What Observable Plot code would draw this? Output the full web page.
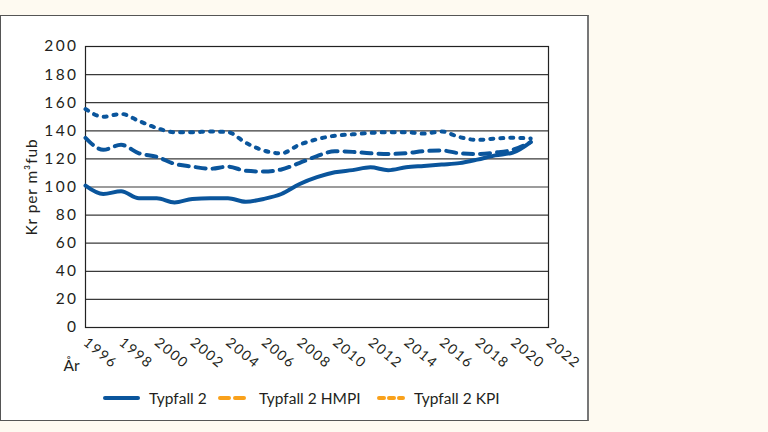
<!DOCTYPE html>
<html><head><meta charset="utf-8">
<script src="https://cdn.jsdelivr.net/npm/d3@7"></script>
<script src="https://cdn.jsdelivr.net/npm/@observablehq/plot@0.6"></script>
<style>
body{margin:0;background:#fefaf1;width:768px;height:432px;overflow:hidden;font-family:Lato,"Open Sans",sans-serif;color:#231f20;}
#panel{position:absolute;left:0;top:15px;width:589px;height:406px;box-sizing:border-box;background:#fff;border:1.5px solid #555;border-right:2px solid #777;}
#chart{position:absolute;left:0;top:15px;}
#legend{position:absolute;left:0;top:388px;height:20px;font-size:15.5px;}
.item{position:absolute;top:0;display:flex;align-items:center;height:20px;white-space:nowrap;}
.item svg{display:block;}
g[aria-label="y-axis tick label"] text{letter-spacing:2.4px;}
g[aria-label="x-axis tick label"] text{letter-spacing:1.6px;}
g[aria-label="y-axis label"] text{letter-spacing:0.9px;}
</style></head>
<body>
<div id="panel"></div>
<div id="chart"></div>
<div id="legend"></div>
<script>
const years = [1996,1997,1998,1999,2000,2001,2002,2003,2004,2005,2006,2007,2008,2009,2010,2011,2012,2013,2014,2015,2016,2017,2018,2019,2020,2021];
const typfall2 = [101,95,97,92,92,89,91.5,92,92,89.5,91.5,95,102,107,110.5,112,114,112,114,115,116,117,119.5,122.5,124.5,132];
const typfall2HMPI = [135,126.5,130,124,121.5,116.5,114.5,113,114.5,111.5,111,112.5,117,122,125.5,125,124,123.5,124,125.5,126,124,123.5,124.5,126.5,132];
const typfall2KPI = [155.5,150,152,147,142,139,139,139.5,139,131.5,126,124,130,134,136.5,137.5,138.5,139,139,138,139.5,135.5,133.5,134.5,135,134.5];
const seriesNames = ["Typfall 2","Typfall 2 HMPI","Typfall 2 KPI"];
const yTicks = [0,20,40,60,80,100,120,140,160,180,200];
const xTicks = [1996,1998,2000,2002,2004,2006,2008,2010,2012,2014,2016,2018,2020,2022];

const blue = "#0a559c";
const orange = "#f9a11b";
const dashes = [null, "10,7", "3,7"];
const series = [typfall2, typfall2HMPI, typfall2KPI];
const rows = [];
series.forEach((vals, si) => vals.forEach((v, i) => rows.push({year: years[i], value: v, s: seriesNames[si]})));

const chart = Plot.plot({
  width: 588, height: 360,
  marginLeft: 85, marginRight: 40, marginTop: 31, marginBottom: 48,
  style: {fontFamily: "Lato, 'Open Sans', sans-serif", color: "#231f20", background: "transparent"},
  x: {domain: [1996, 2022]},
  y: {domain: [0, 200]},
  marks: [
    Plot.ruleY(yTicks, {stroke: "#3a3a3a", strokeWidth: 1.2}),
    Plot.frame({stroke: "#222", strokeWidth: 1.2}),
    ...seriesNames.map((name, si) => Plot.line(rows.filter(r => r.s === name), {
      x: "year", y: "value", stroke: blue, strokeWidth: 4,
      strokeDasharray: dashes[si] || undefined, strokeLinecap: "round",
      curve: "monotone-x"
    })),
    Plot.axisY(yTicks, {tickSize: 0, tickPadding: 7, fontSize: 15.5, label: "Kr per m³fub", labelAnchor: "center", labelArrow: "none", labelOffset: 60}),
    Plot.axisX(xTicks, {tickSize: 0, tickRotate: 40, textAnchor: "start", lineAnchor: "middle", tickPadding: 13, fontSize: 14, label: null, tickFormat: d => String(d)}),
    Plot.text(["År"], {frameAnchor: "bottom-left", dx: -22, dy: 43, text: d => d, textAnchor: "start", fontSize: 15.5})
  ]
});
document.getElementById("chart").appendChild(chart);

const legendItems = [
  {name: seriesNames[0], x: 103, w: 37, color: blue, dash: null},
  {name: seriesNames[1], x: 218, w: 32, color: orange, dash: "9,6"},
  {name: seriesNames[2], x: 377, w: 28, color: orange, dash: "5,5"}
];
const legend = document.getElementById("legend");
legendItems.forEach(it => {
  const d = document.createElement("div");
  d.className = "item";
  d.style.left = it.x + "px";
  d.innerHTML = `<svg width="${it.w + 9}" height="20"><line x1="2" x2="${it.w - 2}" y1="10" y2="10" stroke="${it.color}" stroke-width="4" stroke-linecap="round" ${it.dash ? `stroke-dasharray="${it.dash}"` : ""}/></svg><span>${it.name}</span>`;
  legend.appendChild(d);
});
</script>
</body></html>
